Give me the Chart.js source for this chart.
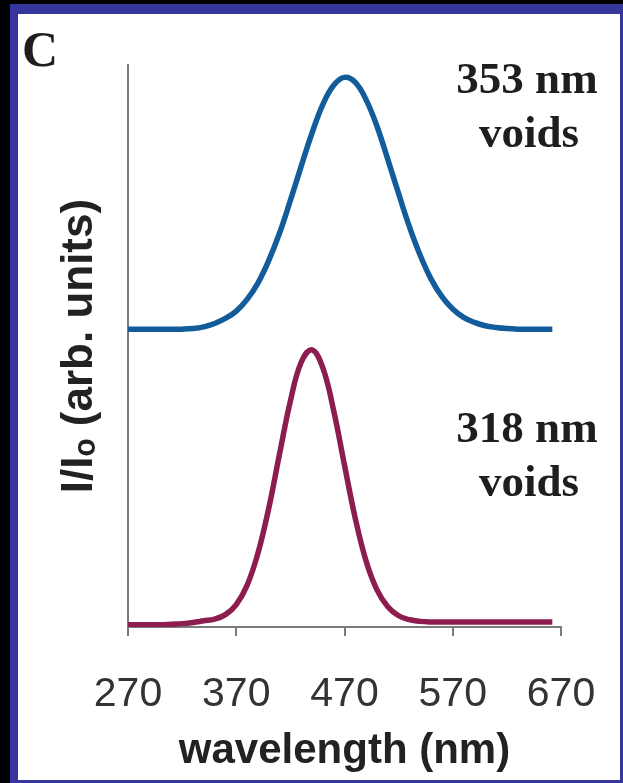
<!DOCTYPE html>
<html>
<head>
<meta charset="utf-8">
<script src="https://cdn.jsdelivr.net/npm/chart.js@4/dist/chart.umd.min.js"></script>
<style>
  html, body { margin: 0; padding: 0; background: #000; }
  #frame { position: absolute; left: 10px; top: 4px; width: 613px; height: 779px; background: #35359c; }
  #panel { position: absolute; left: 8px; top: 10px; width: 602px; height: 766px; background: #fff; }
  canvas { display: block; }
</style>
</head>
<body>
<div id="frame"><div id="panel"><canvas id="myChart" width="602" height="766"></canvas></div></div>
<script>
const wavelengths = [270, 280, 290, 300, 310, 320, 330, 340, 350, 360, 370, 380, 390, 400,
  410, 420, 430, 440, 450, 460, 470, 480, 490, 500, 510, 520, 530, 540, 550, 560, 570,
  580, 590, 600, 610, 620, 630, 640, 650, 662];

// 353 nm voids (shifted up)
const voids353 = [0.530, 0.530, 0.530, 0.530, 0.530, 0.530, 0.531, 0.534, 0.540, 0.549, 0.562, 0.583,
  0.612, 0.652, 0.701, 0.759, 0.820, 0.879, 0.930, 0.964, 0.978, 0.969, 0.938, 0.891, 0.832,
  0.771, 0.712, 0.661, 0.619, 0.588, 0.566, 0.551, 0.542, 0.536, 0.533, 0.531, 0.530, 0.530,
  0.530, 0.530];

// 318 nm voids
const voids318 = [0.004, 0.004, 0.004, 0.004, 0.005, 0.006, 0.008, 0.011, 0.014, 0.022, 0.040, 0.074,
  0.131, 0.211, 0.308, 0.402, 0.471, 0.493, 0.461, 0.385, 0.288, 0.193, 0.117, 0.066, 0.036,
  0.020, 0.013, 0.010, 0.009, 0.009, 0.009, 0.009, 0.009, 0.009, 0.009, 0.009, 0.009, 0.009,
  0.009, 0.009];

const xTicks = [270, 370, 470, 570, 670];

const toPoints = (vals) => vals.map((v, i) => ({ x: wavelengths[i], y: v }));

const labelsPlugin = {
  id: 'labels',
  afterDraw(chart) {
    const c = chart.ctx;
    c.save();
    c.fillStyle = '#1e1e1e';
    c.textBaseline = 'alphabetic';
    c.font = 'bold 50px "Liberation Serif"';
    c.textAlign = 'left';
    c.fillText('C', 4, 52);
    c.font = 'bold 45px "Liberation Serif"';
    c.textAlign = 'center';
    c.fillText('353 nm', 509, 79);
    c.fillText('voids', 511, 133);
    c.fillText('318 nm', 509, 428);
    c.fillText('voids', 511, 482);
    c.restore();
  }
};

new Chart(document.getElementById('myChart'), {
  type: 'line',
  data: {
    datasets: [{
      label: '353 nm voids',
      data: toPoints(voids353),
      borderColor: '#135c9c',
      borderWidth: 5.5,
      pointRadius: 0,
      tension: 0.4
    }, {
      label: '318 nm voids',
      data: toPoints(voids318),
      borderColor: '#8c1d4e',
      borderWidth: 5.5,
      pointRadius: 0,
      tension: 0.4
    }]
  },
  options: {
    responsive: false,
    animation: false,
    devicePixelRatio: 1,
    layout: { padding: { top: 51, right: 59, left: 0, bottom: 0 } },
    plugins: { legend: { display: false }, tooltip: { enabled: false } },
    scales: {
      x: {
        type: 'linear',
        min: 270,
        max: 670,
        afterBuildTicks: (s) => { s.ticks = xTicks.map(v => ({ value: v })); },
        afterFit: (s) => { s.height = 153; s.paddingLeft = 0; s.paddingRight = 0; },
        border: { color: '#7a7a7a', width: 2 },
        grid: { drawOnChartArea: false, drawTicks: true, tickLength: 9, color: '#7a7a7a', lineWidth: 2 },
        ticks: { color: '#333', padding: 34, maxRotation: 0, font: { family: '"Liberation Sans"', size: 41 } },
        title: {
          display: true,
          text: 'wavelength (nm)',
          color: '#222',
          padding: { top: 0, bottom: 3 },
          font: { family: '"Liberation Sans"', size: 42, weight: 'bold' }
        }
      },
      y: {
        min: 0,
        max: 1,
        afterFit: (s) => { s.width = 110; },
        border: { color: '#7a7a7a', width: 2 },
        grid: { display: false },
        ticks: { display: false },
        title: {
          display: true,
          text: 'I/Iₒ (arb. units)',
          color: '#222',
          padding: { top: 35, bottom: 0 },
          font: { family: '"Liberation Sans"', size: 44, weight: 'bold' }
        }
      }
    }
  },
  plugins: [labelsPlugin]
});
</script>
</body>
</html>
